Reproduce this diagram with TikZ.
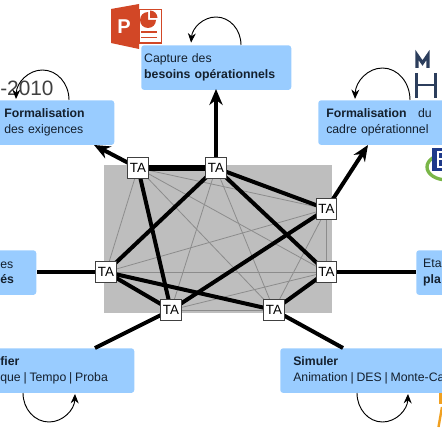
\documentclass[tikz,border=0pt]{standalone}
\usepackage{fontspec}
\setmainfont{Liberation Sans}
\usepackage{xcolor}
\usetikzlibrary{arrows.meta,positioning}
\definecolor{boxblue}{HTML}{99CCFF}
\definecolor{boxtext}{HTML}{14202E}
\definecolor{gridgrey}{HTML}{BEBEBE}
\definecolor{thingrey}{HTML}{8C8C8C}
\definecolor{pptred}{HTML}{D24726}
\definecolor{logoblue}{HTML}{2C3E5C}
\definecolor{logonavy}{HTML}{1F3A8A}
\definecolor{logogreen}{HTML}{7AB648}
\definecolor{logoorange}{HTML}{F0A020}
\newcommand{\barsep}{\hspace{2.1pt}|\hspace{2.1pt}}
\tikzset{
  activity/.style={fill=boxblue,rounded corners=2.2pt,anchor=north west,minimum height=33.5pt,
    text width=#1,align=left,inner ysep=0pt,inner xsep=0pt,text=boxtext,
    font=\fontsize{9.2}{11.7}\selectfont},
  tabox/.style={draw=black!75,fill=white,line width=0.7pt,minimum size=15.5pt,inner sep=0pt,
    font=\fontsize{10}{11}\selectfont},
  thinlink/.style={thingrey,line width=0.6pt},
  thicklink/.style={line width=3pt},
  outlink/.style={line width=3pt,-{Stealth[length=12pt,width=10pt]}},
  looparrow/.style={line width=0.7pt,-{Stealth[length=7pt,width=6pt]}},
}
\begin{document}
\begin{tikzpicture}[x=0.75pt,y=-0.75pt]
\useasboundingbox (0,0) rectangle (442,442);
\clip (0,0) rectangle (442,442);
% logos
\node[text=black!75,font=\fontsize{15.6}{16}\selectfont,anchor=base west,inner sep=0pt] (year) at (0,96) {-2010};
\draw[pptred,line width=0.9pt,fill=white] (139,9.5) rectangle (161.5,43);
\fill[pptred] (111,9) -- (139,4) -- (139,49) -- (111,43) -- cycle;
\fill[pptred] (148,12) -- (148,20) -- (156,20) arc (0:180:8) arc (180:270:8) -- cycle;
\fill[pptred] (150,10.5) -- (150,18) -- (157.5,18) arc (0:-90:7.5) -- cycle;
\draw[pptred,line width=1pt] (141,32) -- (157,32) (141,37.5) -- (157,37.5);
\node[text=white,font=\bfseries\fontsize{15}{15}\selectfont,inner sep=0pt] (pptp) at (124,27) {P};
\draw[logoblue,line width=2.4pt] (417,68) -- (417,55) -- (422.5,63) -- (428,55) -- (428,68);
\draw[logoblue,line width=2.2pt] (416.5,73) -- (416.5,98) (435.5,73) -- (435.5,98) (416.5,85) -- (435.5,85);
\draw[logogreen,line width=2.5pt] (447,167) ellipse (20 and 13);
\fill[logonavy] (432,148) rectangle (445,171);
\draw[white,line width=1.6pt] (443,152) -- (438,152) -- (438,167) -- (443,167) (438,159) -- (442,159);
\fill[logoorange] (439,393) rectangle (442,404);
\draw[logoorange,line width=1.8pt] (442,407) -- (438.5,427);
% grey panel
\fill[gridgrey] (104,165) rectangle (332,313);
% activities
\node[activity=112.5pt] (capture) at (141,45)
  {\hspace*{2.2pt}Capture des\\\hspace*{2.2pt}\textbf{besoins opérationnels}};
\node[activity=93pt] (exig) at (-10,100)
  {\hspace*{10.5pt}\textbf{Formalisation}\\\hspace*{10.5pt}des exigences};
\node[activity=100.5pt] (cadre) at (318,100)
  {\hspace*{6pt}\textbf{Formalisation}\hspace{8.6pt}du\\\hspace*{6pt}cadre opérationnel};
\node[activity=34.5pt] (leftbox) at (-10,250)
  {\hspace*{7.5pt}es\\\hspace*{7.5pt}\textbf{és}};
\node[activity=27pt] (rightbox) at (416,250)
  {\hspace*{5.2pt}Eta\\\hspace*{5.2pt}\textbf{pla}};
\node[activity=108pt] (verif) at (-10,348)
  {\hspace*{7.5pt}\textbf{fier}\\\hspace*{7.5pt}que\barsep Tempo\barsep Proba};
\node[activity=135pt] (simul) at (280,348)
  {\hspace*{9.75pt}\textbf{Simuler}\\\hspace*{9.75pt}Animation\barsep DES\barsep Monte-Ca};
% loops
\draw[looparrow] (241,45) arc (0:-175:25 and 28);
\draw[looparrow] (69,100) arc (0:-178:26.5 and 30);
\draw[looparrow] (410,100) arc (0:-178:27.5 and 32);
\draw[looparrow] (23,393) arc (180:2:26 and 29);
\draw[looparrow] (357,393) arc (180:2:25.5 and 29);
% TA nodes
\foreach \nm/\x/\y in {ta1/138/168,ta2/216/168,ta3/326.5/209,ta4/326.5/272,ta5/274/310,ta6/171/310,ta7/106/272}{
  \coordinate (\nm) at (\x,\y);
}
\foreach \p/\q in {ta1/ta7,ta1/ta3,ta1/ta4,ta1/ta5,ta2/ta6,ta2/ta5,ta3/ta7,ta3/ta4,ta3/ta5,ta4/ta7,ta4/ta6,ta5/ta6}{
  \draw[thinlink] (\p) -- (\q);
}
\foreach \p/\q in {ta1/ta6,ta2/ta7,ta2/ta3,ta2/ta4,ta3/ta6,ta4/ta5,ta7/ta5,ta7/ta6}{
  \draw[thicklink] (\p) -- (\q);
}
\draw[line width=4pt] (ta1) -- (ta2);
% links to activities
\coordinate (inexig) at (94,145);
\coordinate (incapture) at (216,89);
\coordinate (incadre) at (368,145);
\coordinate (inverif) at (95,348);
\coordinate (insimul) at (343,348);
\draw[outlink] (ta1) -- (inexig);
\draw[outlink] (ta2) -- (incapture);
\draw[outlink] (ta3) -- (incadre);
\draw[thicklink] (ta7) -- (leftbox.east |- ta7);
\draw[thicklink] (ta4) -- (rightbox.west |- ta4);
\draw[thicklink] (ta6) -- (inverif);
\draw[thicklink] (ta5) -- (insimul);
\foreach \nm in {ta1,ta2,ta3,ta4,ta5,ta6,ta7}{
  \node[tabox] (\nm box) at (\nm) {TA};
}
\end{tikzpicture}
\end{document}
